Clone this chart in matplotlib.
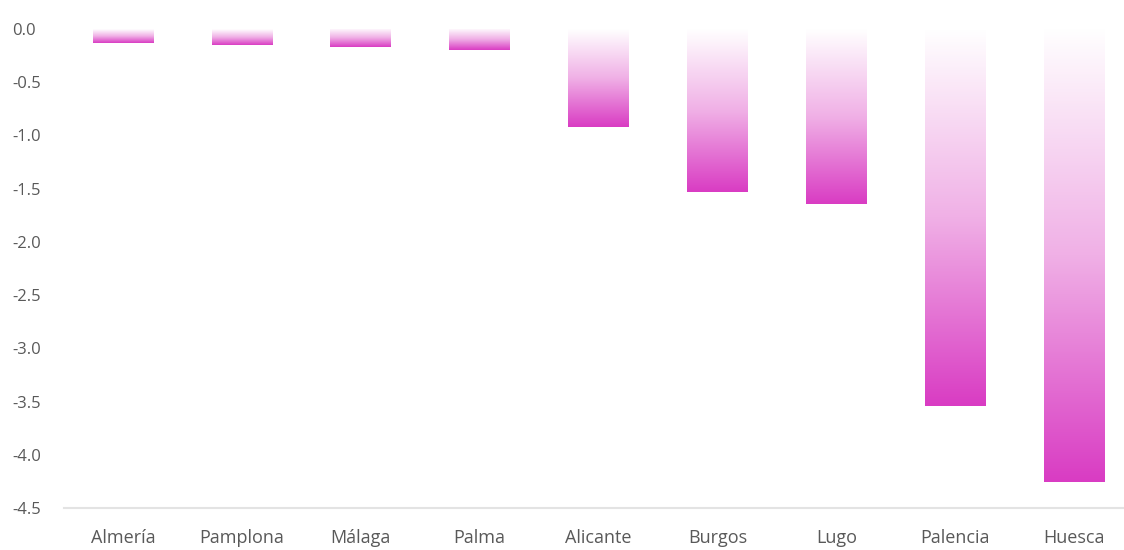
import matplotlib
matplotlib.use("Agg")
import matplotlib.pyplot as plt
import numpy as np
from matplotlib.colors import LinearSegmentedColormap

cities = ['Almería', 'Pamplona', 'Málaga', 'Palma', 'Alicante',
          'Burgos', 'Lugo', 'Palencia', 'Huesca']
values = [-0.13, -0.15, -0.17, -0.20, -0.92, -1.53, -1.64, -3.54, -4.26]
yticks = [0.0, -0.5, -1.0, -1.5, -2.0, -2.5, -3.0, -3.5, -4.0, -4.5]

plt.rcParams['font.family'] = ['Open Sans', 'DejaVu Sans']

# gradient: white at zero -> magenta at the bar end
cmap = LinearSegmentedColormap.from_list('pinkgrad', ['#ffffff', '#f0b0e6', '#d93cc3'])

fig = plt.figure(figsize=(11.24, 5.50), dpi=100)
ax = fig.add_axes([63.5 / 1124, 42 / 550, 1070 / 1124, 479 / 550])

bar_w = 0.51
ax.bar(range(len(cities)), values, width=bar_w, color='none', edgecolor='none')
grad = np.linspace(0, 1, 256).reshape(-1, 1)
for i, v in enumerate(values):
    ax.imshow(grad, cmap=cmap, aspect='auto', origin='upper',
              extent=(i - bar_w / 2, i + bar_w / 2, v, 0), zorder=2)

ax.set_xlim(-0.5, len(cities) - 0.5)
ax.set_ylim(-4.5, 0)
ax.set_yticks(yticks)
ax.set_yticklabels([f'{t:.1f}' for t in yticks], ha='left')
ax.set_xticks(range(len(cities)))
ax.set_xticklabels(cities)

for s in ['top', 'right', 'left']:
    ax.spines[s].set_visible(False)
ax.spines['bottom'].set_color('#e3e3e3')
ax.spines['bottom'].set_linewidth(1.5)
ax.tick_params(axis='both', length=0, colors='#595959', labelsize=12)
ax.tick_params(axis='y', pad=37)
ax.tick_params(axis='x', pad=15, labelsize=13)

fig.savefig('out.png', dpi=100)
